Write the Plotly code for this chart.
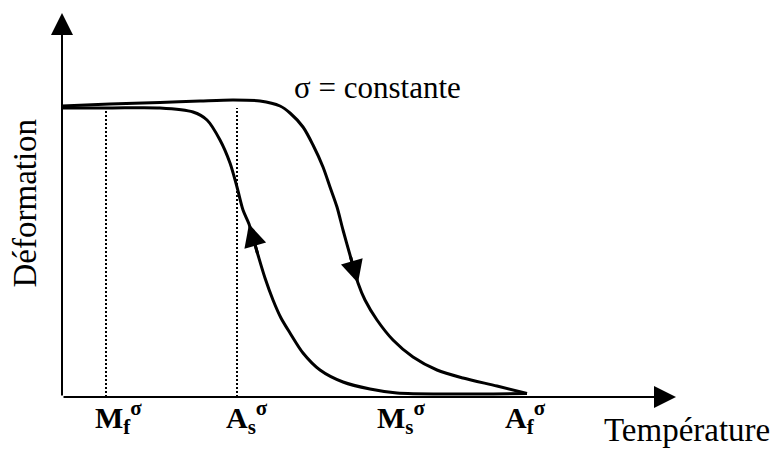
import plotly.graph_objects as go

# Courbe au chauffage (descend de gauche à droite)
temp_chauffage = [0, 9.6, 19.6, 27.6, 34.2, 39.6, 43.6, 45.6, 48.2, 50.2, 52.2, 53.6,
                  55.0, 56.2, 57.6, 59.2, 60.6, 63.0, 66.2, 70.2, 75.0, 80.2, 87.0, 93.0]
def_chauffage = [5.82, 5.86, 5.89, 5.92, 5.94, 5.92, 5.82, 5.68, 5.40, 5.04, 4.60, 4.20,
                 3.80, 3.34, 2.84, 2.28, 1.94, 1.54, 1.14, 0.80, 0.54, 0.38, 0.22, 0.07]

# Courbe au refroidissement (parcourue de droite à gauche)
temp_refroid = [93.0, 77.6, 67.0, 61.6, 56.2, 51.6, 48.2, 45.6, 43.8, 42.2, 40.6, 39.2,
                37.4, 36.2, 35.0, 33.6, 31.6, 29.0, 26.2, 19.6, 9.6, 0]
def_refroid = [0.07, 0.06, 0.08, 0.16, 0.30, 0.54, 0.88, 1.28, 1.58, 1.94, 2.38, 2.84,
               3.46, 3.74, 4.20, 4.68, 5.14, 5.54, 5.70, 5.78, 5.78, 5.78]

# Températures de transition sous contrainte
transitions = ["M<sub>f</sub><sup>σ</sup>", "A<sub>s</sub><sup>σ</sup>",
               "M<sub>s</sub><sup>σ</sup>", "A<sub>f</sub><sup>σ</sup>"]
temp_transitions = [8.8, 35.0, 65.2, 90.8]
traits_pointilles = [8.8, 35.0]   # seuls Mf et As ont un trait vertical
hauteur_pointilles = 5.78

fleche_chauffage = 15   # indice de la pointe de flèche sur chaque courbe
fleche_refroid = 12

POLICE = "Liberation Serif, Times New Roman, serif"

fig = go.Figure()

for t in traits_pointilles:
    fig.add_trace(go.Scatter(
        x=[t, t], y=[0, hauteur_pointilles], mode="lines",
        line=dict(color="black", width=2, dash="2px,2px"),
        hoverinfo="skip"
    ))

for xs, ys in [(temp_chauffage, def_chauffage), (temp_refroid, def_refroid)]:
    fig.add_trace(go.Scatter(
        x=xs, y=ys, mode="lines",
        line=dict(color="black", width=3, shape="spline", smoothing=0.8),
        hoverinfo="skip"
    ))

annotations = []

# flèches de sens de parcours sur les courbes
for xs, ys, i in [(temp_chauffage, def_chauffage, fleche_chauffage),
                  (temp_refroid, def_refroid, fleche_refroid)]:
    annotations.append(dict(
        x=xs[i], y=ys[i], ax=xs[i - 1], ay=ys[i - 1],
        xref="x", yref="y", axref="x", ayref="y", text="",
        showarrow=True, arrowhead=2, arrowwidth=3, arrowsize=1.5, arrowcolor="black"
    ))

# axes fléchés
annotations.append(dict(x=122.8, y=0, ax=0, ay=0, xref="x", yref="y", axref="x", ayref="y",
                        text="", showarrow=True, arrowhead=2, arrowwidth=2, arrowsize=2.2,
                        arrowcolor="black"))
annotations.append(dict(x=0, y=7.68, ax=0, ay=0, xref="x", yref="y", axref="x", ayref="y",
                        text="", showarrow=True, arrowhead=2, arrowwidth=2, arrowsize=2.2,
                        arrowcolor="black"))

# étiquettes des températures de transition
for nom, t in zip(transitions, temp_transitions):
    annotations.append(dict(
        x=t, y=-0.4, xref="x", yref="y", text=f"<b>{nom}</b>", showarrow=False,
        xanchor="left", xshift=-13, font=dict(family=POLICE, size=30, color="black")
    ))

annotations.append(dict(x=63.1, y=6.2, xref="x", yref="y", text="σ = constante", showarrow=False,
                        font=dict(family=POLICE, size=31, color="black")))
annotations.append(dict(x=108, y=-0.66, xref="x", yref="y", text="Température", showarrow=False,
                        xanchor="left", font=dict(family=POLICE, size=33, color="black")))
annotations.append(dict(x=-7.6, y=3.87, xref="x", yref="y", text="Déformation", showarrow=False,
                        textangle=-90, font=dict(family=POLICE, size=33, color="black")))

fig.update_layout(
    width=778, height=450,
    margin=dict(l=0, r=0, t=0, b=0),
    paper_bgcolor="white", plot_bgcolor="white",
    showlegend=False,
    annotations=annotations,
    xaxis=dict(range=[-12.4, 143.2], visible=False),
    yaxis=dict(range=[-1.06, 7.94], visible=False),
)

fig.write_html("out.html", config={"displayModeBar": False},
               post_script="document.body.style.margin='0';")
